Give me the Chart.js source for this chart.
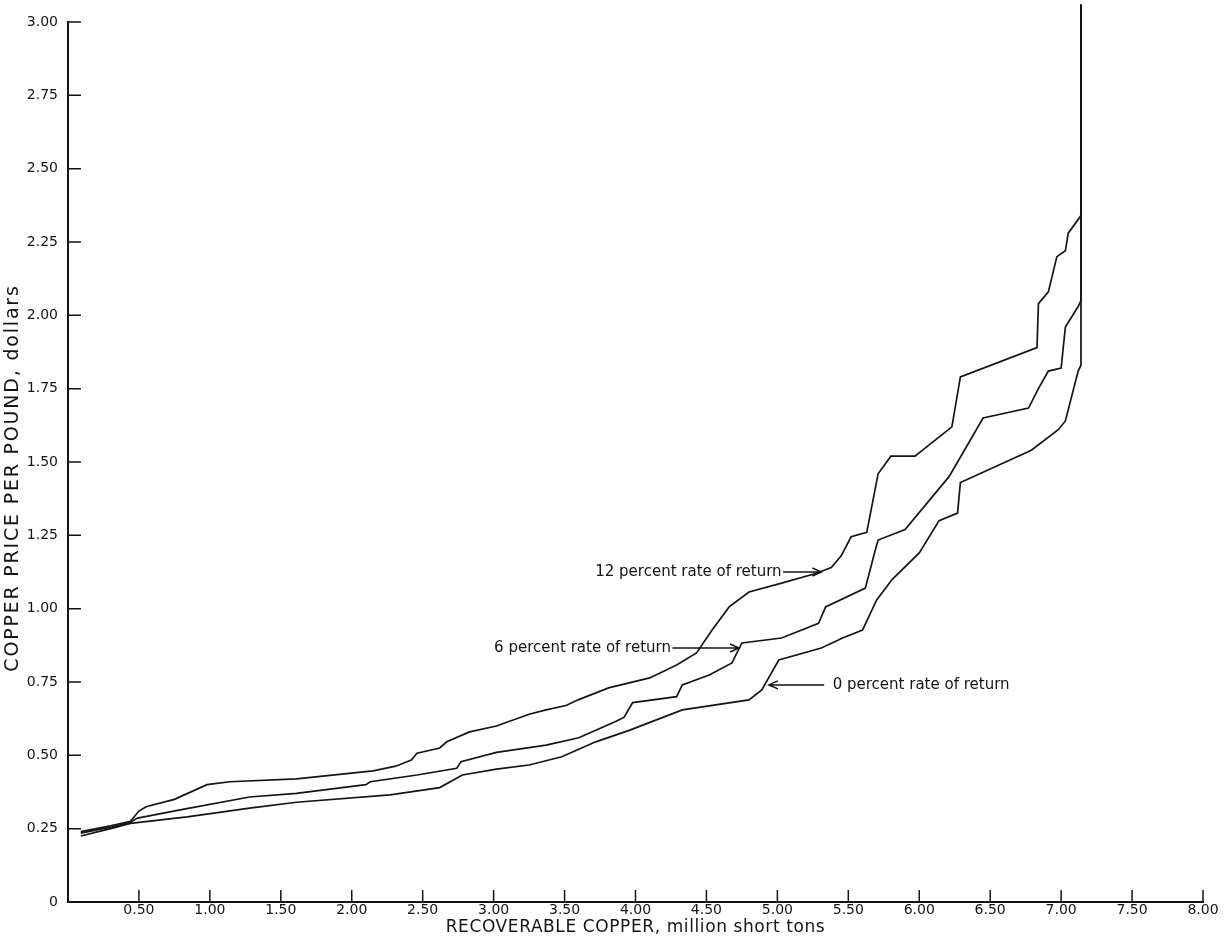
<!DOCTYPE html>
<html>
<head>
<meta charset="utf-8">
<script src="https://cdn.jsdelivr.net/npm/chart.js@4/dist/chart.umd.min.js"></script>
<style>
html,body{margin:0;padding:0;background:#fff;}
#wrap{width:1226px;height:940px;}
</style>
</head>
<body>
<div id="wrap"><canvas id="c" width="1226" height="940"></canvas></div>
<script>
// ---- tick values / labels ----
const xTickValues = [0,0.5,1,1.5,2,2.5,3,3.5,4,4.5,5,5.5,6,6.5,7,7.5,8];
const xTickLabels = ['', '0.50','1.00','1.50','2.00','2.50','3.00','3.50','4.00','4.50','5.00','5.50','6.00','6.50','7.00','7.50','8.00'];
const yTickValues = [0,0.25,0.5,0.75,1,1.25,1.5,1.75,2,2.25,2.5,2.75,3];
const yTickLabels = ['0','0.25','0.50','0.75','1.00','1.25','1.50','1.75','2.00','2.25','2.50','2.75','3.00'];

// ---- series: 12 percent rate of return ----
const x12 = [0.09,0.30,0.44,0.50,0.55,0.75,0.98,1.14,1.61,2.15,2.31,2.42,2.46,2.62,2.67,2.83,3.02,3.25,3.37,3.51,3.60,3.81,4.10,4.29,4.43,4.54,4.66,4.80,5.03,5.27,5.38,5.45,5.52,5.63,5.71,5.80,5.97,6.23,6.29,6.83,6.84,6.91,6.97,7.03,7.05,7.14,7.14];
const y12 = [0.24,0.26,0.275,0.31,0.325,0.35,0.40,0.41,0.42,0.447,0.463,0.484,0.507,0.525,0.546,0.58,0.60,0.64,0.655,0.67,0.69,0.73,0.764,0.808,0.849,0.927,1.006,1.057,1.087,1.12,1.14,1.18,1.245,1.26,1.46,1.52,1.52,1.62,1.79,1.89,2.04,2.08,2.20,2.22,2.28,2.34,3.06];

// ---- series: 6 percent rate of return ----
const x6 = [0.09,0.30,0.44,0.49,0.80,1.28,1.61,2.10,2.13,2.46,2.74,2.77,3.02,3.37,3.60,3.86,3.92,3.98,4.29,4.33,4.52,4.68,4.75,5.03,5.29,5.34,5.62,5.69,5.71,5.90,6.21,6.45,6.77,6.84,6.91,7.00,7.03,7.12,7.14,7.14];
const y6 = [0.235,0.255,0.272,0.286,0.315,0.358,0.37,0.40,0.41,0.433,0.456,0.478,0.51,0.535,0.56,0.615,0.63,0.68,0.70,0.74,0.774,0.815,0.883,0.90,0.95,1.006,1.07,1.20,1.234,1.27,1.45,1.65,1.684,1.75,1.81,1.82,1.96,2.03,2.05,3.06];

// ---- series: 0 percent rate of return ----
const x0 = [0.09,0.30,0.44,0.84,1.28,1.61,2.27,2.62,2.78,3.02,3.25,3.48,3.72,3.96,4.33,4.80,4.89,5.01,5.31,5.46,5.60,5.70,5.81,6.00,6.14,6.27,6.29,6.79,6.98,7.03,7.12,7.14,7.14];
const y0 = [0.225,0.25,0.268,0.29,0.32,0.34,0.365,0.39,0.433,0.453,0.467,0.495,0.546,0.586,0.655,0.689,0.723,0.825,0.866,0.90,0.927,1.03,1.10,1.19,1.30,1.326,1.43,1.54,1.61,1.64,1.81,1.83,3.06];

const seriesNames = ['12 percent rate of return','6 percent rate of return','0 percent rate of return'];

// annotation anchors (data units)
const notes = [
  {text: seriesNames[0], textEnd: 5.03, arrowFrom: 5.04, arrowTo: 5.31, y: 1.125, side: 'left'},
  {text: seriesNames[1], textEnd: 4.25, arrowFrom: 4.26, arrowTo: 4.73, y: 0.866, side: 'left'},
  {text: seriesNames[2], textStart: 5.39, arrowFrom: 5.33, arrowTo: 4.94, y: 0.74, side: 'right'}
];

const pts = (xs, ys) => xs.map((v, i) => ({x: v, y: ys[i]}));
const INK = '#141414';
const FONT = "'DejaVu Sans', sans-serif";

const inwardTicks = {
  id: 'inwardTicks',
  afterDraw(chart) {
    const {ctx, chartArea: a, scales: {x, y}} = chart;
    ctx.save();
    ctx.strokeStyle = INK;
    ctx.lineWidth = 1.5;
    ctx.beginPath();
    xTickValues.forEach(v => {
      if (v === 0) return;
      const px = x.getPixelForValue(v);
      ctx.moveTo(px, a.bottom);
      ctx.lineTo(px, a.bottom - 12);
    });
    yTickValues.forEach(v => {
      if (v === 0) return;
      const py = y.getPixelForValue(v);
      ctx.moveTo(a.left, py);
      ctx.lineTo(a.left + 13, py);
    });
    ctx.stroke();
    ctx.restore();
  }
};

const titlesAndNotes = {
  id: 'titlesAndNotes',
  afterDraw(chart) {
    const {ctx, chartArea: a, scales: {x, y}} = chart;
    ctx.save();
    ctx.fillStyle = INK;
    ctx.strokeStyle = INK;
    // axis titles
    ctx.textBaseline = 'middle';
    ctx.textAlign = 'center';
    ctx.font = '17px ' + FONT;
    try { ctx.letterSpacing = '0.6px'; } catch (e) {}
    ctx.fillText('RECOVERABLE COPPER, million short tons', (a.left + a.right) / 2, 928);
    ctx.save();
    ctx.translate(13, (a.top + a.bottom) / 2 + 16);
    ctx.rotate(-Math.PI / 2);
    ctx.font = '19px ' + FONT;
    try { ctx.letterSpacing = '1.8px'; } catch (e) {}
    ctx.fillText('COPPER PRICE PER POUND, dollars', 0, 0);
    ctx.restore();
    try { ctx.letterSpacing = '0px'; } catch (e) {}
    // annotations
    ctx.font = '15px ' + FONT;
    ctx.lineWidth = 1.5;
    notes.forEach(n => {
      const py = y.getPixelForValue(n.y);
      const x1 = x.getPixelForValue(n.arrowFrom);
      const x2 = x.getPixelForValue(n.arrowTo);
      if (n.side === 'left') {
        ctx.textAlign = 'right';
        ctx.fillText(n.text, x.getPixelForValue(n.textEnd), py);
      } else {
        ctx.textAlign = 'left';
        ctx.fillText(n.text, x.getPixelForValue(n.textStart), py);
      }
      ctx.beginPath();
      ctx.moveTo(x1, py);
      ctx.lineTo(x2, py);
      const d = x2 > x1 ? -1 : 1;
      ctx.moveTo(x2 + d * 9, py - 4);
      ctx.lineTo(x2, py);
      ctx.lineTo(x2 + d * 9, py + 4);
      ctx.stroke();
    });
    ctx.restore();
  }
};

const lineStyle = {
  borderColor: INK,
  borderWidth: 1.7,
  pointRadius: 0,
  pointHoverRadius: 0,
  tension: 0,
  fill: false,
  clip: false
};

new Chart(document.getElementById('c'), {
  type: 'line',
  data: {
    datasets: [
      Object.assign({label: seriesNames[0], data: pts(x12, y12)}, lineStyle),
      Object.assign({label: seriesNames[1], data: pts(x6, y6)}, lineStyle),
      Object.assign({label: seriesNames[2], data: pts(x0, y0)}, lineStyle)
    ]
  },
  options: {
    responsive: false,
    animation: false,
    devicePixelRatio: 1,
    layout: {padding: {top: 22, right: 23, left: 0, bottom: 0}},
    plugins: {legend: {display: false}, tooltip: {enabled: false}},
    scales: {
      x: {
        type: 'linear',
        min: 0, max: 8,
        afterBuildTicks: s => { s.ticks = xTickValues.map(v => ({value: v})); },
        afterFit: s => { s.height = 38; },
        ticks: {
          autoSkip: false, maxRotation: 0, padding: 0,
          color: INK, font: {family: FONT, size: 14},
          callback: (v, i) => xTickLabels[i]
        },
        grid: {display: true, drawOnChartArea: false, drawTicks: false},
        border: {display: true, color: INK, width: 2}
      },
      y: {
        type: 'linear',
        min: 0, max: 3,
        afterBuildTicks: s => { s.ticks = yTickValues.map(v => ({value: v})); },
        afterFit: s => { s.width = 68; },
        ticks: {
          autoSkip: false, padding: 10,
          color: INK, font: {family: FONT, size: 14},
          callback: (v, i) => yTickLabels[i]
        },
        grid: {display: true, drawOnChartArea: false, drawTicks: false},
        border: {display: true, color: INK, width: 2}
      }
    }
  },
  plugins: [inwardTicks, titlesAndNotes]
});
</script>
</body>
</html>
